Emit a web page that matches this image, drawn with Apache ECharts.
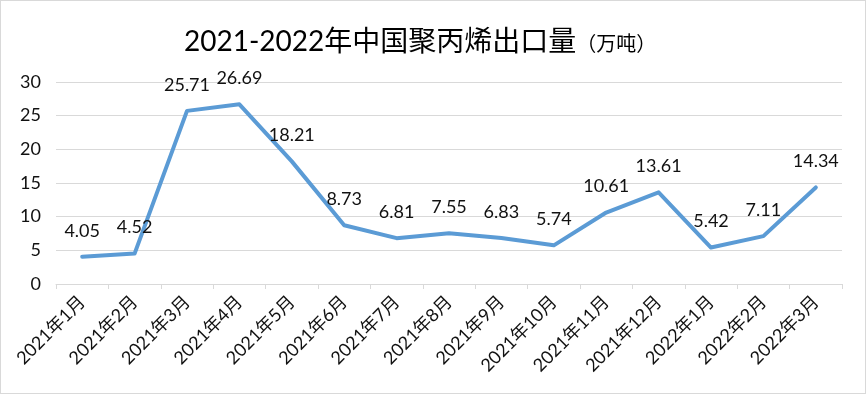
<!DOCTYPE html>
<html><head><meta charset="utf-8">
<script src="https://cdn.jsdelivr.net/npm/echarts@6/dist/echarts.min.js"></script>
<style>html,body{margin:0;padding:0;background:#fff}#c{width:866px;height:394px;box-sizing:border-box;border:1px solid #d9d9d9}</style>
</head><body><div id="c"></div>
<script>
const categories = ['2021年1月','2021年2月','2021年3月','2021年4月','2021年5月','2021年6月','2021年7月','2021年8月','2021年9月','2021年10月','2021年11月','2021年12月','2022年1月','2022年2月','2022年3月'];
const exportVolume = [4.05, 4.52, 25.71, 26.69, 18.21, 8.73, 6.81, 7.55, 6.83, 5.74, 10.61, 13.61, 5.42, 7.11, 14.34];
const yTicks = [0, 5, 10, 15, 20, 25, 30];
const titleMain = '2021-2022年中国聚丙烯出口量';
const titleUnit = '（万吨）';

const FONT = "Lato, 'Noto Sans CJK SC', sans-serif";
const chart = echarts.init(document.getElementById('c'), null, {renderer: 'canvas'});
chart.setOption({
  animation: false,
  title: {
    text: '{a|' + titleMain + '}{b|' + titleUnit + '}',
    left: 178, top: 22,
    textStyle: {
      rich: {
        a: {fontSize: 28, fontWeight: 'normal', color: '#000', fontFamily: FONT},
        b: {fontSize: 20, fontWeight: 'normal', color: '#000', fontFamily: FONT, padding: [5, 0, 0, 0]}
      }
    }
  },
  grid: {left: 55, right: 23, top: 81, bottom: 109},
  xAxis: {
    type: 'category', data: categories, boundaryGap: true,
    axisLine: {lineStyle: {color: '#d9d9d9', width: 1}},
    axisTick: {show: true, length: 5, lineStyle: {color: '#d9d9d9'}},
    axisLabel: {rotate: 45, fontSize: 18, color: '#111', fontFamily: FONT, margin: 15, interval: 0}
  },
  yAxis: {
    type: 'value', min: yTicks[0], max: yTicks[yTicks.length-1], interval: 5,
    axisLine: {show: false}, axisTick: {show: false},
    splitLine: {lineStyle: {color: '#d9d9d9', width: 1}},
    axisLabel: {fontSize: 18, color: '#111', fontFamily: FONT, margin: 15}
  },
  series: [{
    type: 'line', data: exportVolume, symbol: 'circle', symbolSize: 2, showSymbol: true,
    itemStyle: {color: 'rgba(91,155,213,0)', borderWidth: 0},
    lineStyle: {color: '#5b9bd5', width: 4, cap: 'round', join: 'round'},
    label: {show: true, position: 'top', distance: 16, fontSize: 18, color: '#111', fontFamily: FONT,
      formatter: p => p.value.toFixed(2)},
    labelLayout: {hideOverlap: false}
  }]
});
</script></body></html>
